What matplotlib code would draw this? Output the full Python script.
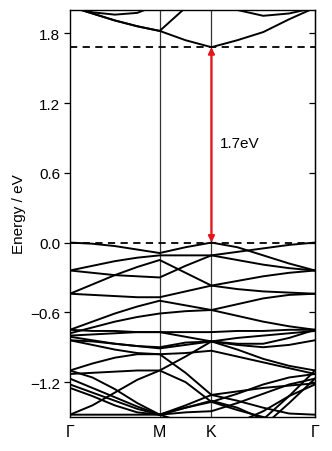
import numpy as np
import matplotlib
matplotlib.use("Agg")
import matplotlib.pyplot as plt

plt.rcParams["font.family"] = ["Liberation Sans", "DejaVu Sans"]

# ── Data ─────────────────────────────────────────────────────────────────────
# k-path nodes: Γ, 3 pts, M, 1 pt, K, 3 pts, Γ (hexagonal path lengths)
k_nodes = [0.0, 0.1443, 0.2887, 0.4330, 0.5774, 0.7440, 0.9107, 1.0774, 1.2440, 1.4107, 1.5774]
k_ticks = [0.0, 0.5774, 0.9107, 1.5774]
k_labels = ["Γ", "M", "K", "Γ"]

cond_bands = [
    [2.03, 1.97, 1.91, 1.86, 1.82, 1.74, 1.68, 1.74, 1.81, 1.92, 2.02],
    [2.03, 1.97, 1.91, 1.86, 1.82, 2.02, 2.25, 2.30, 2.30, 2.25, 2.20],
    [2.06, 1.98, 1.96, 1.975, 2.05, 2.20, 2.30, 2.25, 2.20, 2.15, 2.10],
    [2.10, 2.20, 2.30, 2.20, 2.10, 2.20, 2.20, 2.00, 1.95, 1.97, 2.02],
]

val_bands = [
    [0.00, -0.01, -0.03, -0.06, -0.09, -0.04, 0.00, -0.04, -0.11, -0.18, -0.24],
    [-0.24, -0.20, -0.16, -0.13, -0.11, -0.11, -0.11, -0.08, -0.05, -0.02, 0.00],
    [-0.24, -0.26, -0.28, -0.29, -0.30, -0.20, -0.11, -0.15, -0.19, -0.22, -0.24],
    [-0.44, -0.36, -0.28, -0.21, -0.15, -0.26, -0.37, -0.33, -0.29, -0.26, -0.24],
    [-0.44, -0.45, -0.46, -0.47, -0.47, -0.42, -0.37, -0.40, -0.42, -0.43, -0.44],
    [-0.75, -0.68, -0.61, -0.55, -0.50, -0.54, -0.58, -0.53, -0.48, -0.45, -0.44],
    [-0.78, -0.73, -0.68, -0.64, -0.61, -0.59, -0.58, -0.63, -0.68, -0.72, -0.75],
    [-0.75, -0.76, -0.76, -0.77, -0.77, -0.81, -0.85, -0.87, -0.87, -0.82, -0.75],
    [-0.84, -0.85, -0.87, -0.89, -0.91, -0.88, -0.85, -0.82, -0.80, -0.78, -0.76],
    [-0.84, -0.88, -0.92, -0.95, -0.96, -0.95, -0.93, -0.98, -1.03, -1.08, -1.13],
    [-1.10, -1.04, -0.99, -0.96, -0.96, -1.12, -1.31, -1.28, -1.25, -1.23, -1.21],
    [-1.13, -1.12, -1.11, -1.10, -1.10, -1.20, -1.37, -1.30, -1.22, -1.16, -1.13],
    [-1.17, -1.25, -1.33, -1.41, -1.48, -1.42, -1.37, -1.44, -1.50, -1.55, -1.55],
    [-1.22, -1.29, -1.36, -1.43, -1.48, -1.40, -1.31, -1.36, -1.42, -1.47, -1.48],
    [-1.25, -1.32, -1.40, -1.46, -1.48, -1.55, -1.60, -1.55, -1.45, -1.32, -1.22],
    [-1.48, -1.40, -1.29, -1.18, -1.10, -0.98, -0.85, -0.92, -1.00, -1.06, -1.10],
    [-0.80, -0.79, -0.78, -0.77, -0.77, -0.77, -0.77, -0.76, -0.76, -0.75, -0.75],
    [-0.81, -0.84, -0.87, -0.89, -0.90, -0.86, -0.85, -0.88, -0.90, -0.88, -0.84],
    [-1.48, -1.48, -1.48, -1.48, -1.48, -1.42, -1.36, -1.42, -1.52, -1.60, -1.65],
    [-1.10, -1.16, -1.26, -1.38, -1.48, -1.46, -1.45, -1.38, -1.30, -1.22, -1.17],
    [-2.00, -1.90, -1.85, -1.80, -1.75, -1.90, -2.00, -1.85, -1.52, -1.32, -1.10],
    [-2.00, -1.90, -1.85, -1.80, -1.75, -1.80, -1.90, -1.75, -1.58, -1.38, -1.17],
]

vbm = 0.0
cbm = 1.68
gap_label = "1.7eV"
y_ticks = [-1.2, -0.6, 0.0, 0.6, 1.2, 1.8]

# ── Figure ───────────────────────────────────────────────────────────────────
fig = plt.figure(figsize=(3.32, 4.52), dpi=100)
ax = fig.add_axes([0.2108, 0.0752, 0.738, 0.9005])

for band in cond_bands + val_bands:
    ax.plot(k_nodes, band, color="black", lw=1.4, solid_joinstyle="round", zorder=3)

for kx in k_ticks[1:3]:
    ax.axvline(kx, color="#333333", lw=0.9, zorder=2)

ax.axhline(vbm, color="black", lw=1.3, ls=(0, (4, 3)), zorder=4)
ax.axhline(cbm, color="black", lw=1.3, ls=(0, (4, 3)), zorder=4)

ax.annotate("", xy=(k_ticks[2], cbm), xytext=(k_ticks[2], vbm),
            arrowprops=dict(arrowstyle="<|-|>", color="#e8141b", lw=1.6,
                            mutation_scale=9, shrinkA=0, shrinkB=0), zorder=5)
ax.text(k_ticks[2] + 0.055, 0.86, gap_label, fontsize=11, va="center", ha="left")

ax.set_xlim(k_ticks[0], k_ticks[-1])
ax.set_ylim(-1.5, 2.0)
ax.set_xticks(k_ticks)
ax.set_xticklabels(k_labels, fontsize=11.5)
ax.tick_params(axis="x", length=0, pad=5)
ax.set_yticks(y_ticks)
ax.set_yticklabels([f"{v:.1f}".replace("-", "\u2212") for v in y_ticks], fontsize=11)
ax.tick_params(axis="y", direction="out", length=4, width=0.9, pad=3)
ax.set_ylabel("Energy / eV", fontsize=11, labelpad=3)

# inward ticks on the right spine
sec = ax.secondary_yaxis("right")
sec.set_yticks(y_ticks)
sec.set_yticklabels([])
sec.tick_params(direction="in", length=4, width=0.9)

for s in ax.spines.values():
    s.set_linewidth(1.0)

fig.savefig("out.png", dpi=100)
